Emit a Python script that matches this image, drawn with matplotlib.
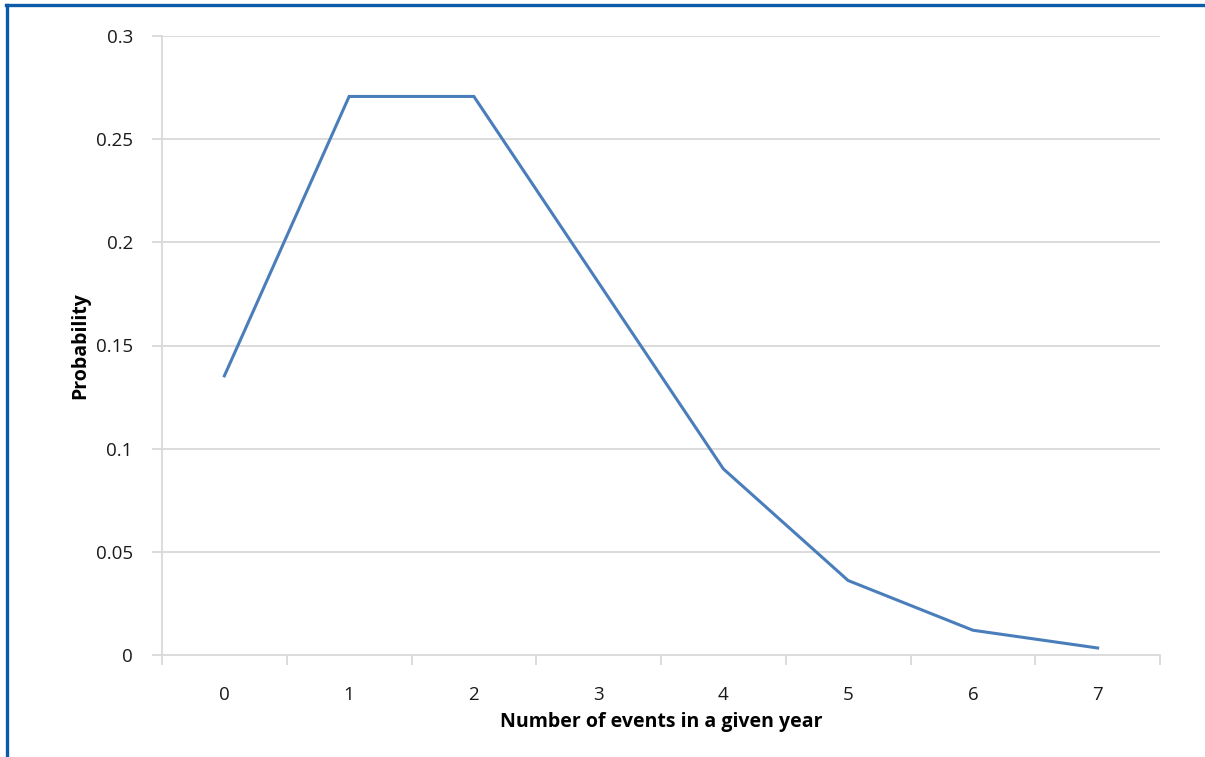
import matplotlib
matplotlib.use("Agg")
import matplotlib.pyplot as plt
from matplotlib.lines import Line2D

categories = ["0", "1", "2", "3", "4", "5", "6", "7"]
probability = [0.1353, 0.2707, 0.2707, 0.1804, 0.0902, 0.0361, 0.0120, 0.0034]
y_ticks = [0, 0.05, 0.1, 0.15, 0.2, 0.25, 0.3]
y_tick_labels = ["0", "0.05", "0.1", "0.15", "0.2", "0.25", "0.3"]

plt.rcParams['font.family'] = ['Open Sans', 'DejaVu Sans']

W, H = 1205, 757
fig = plt.figure(figsize=(W / 100, H / 100), dpi=100)
ax = fig.add_axes([162 / W, 1 - 655 / H, (1160 - 162) / W, (655 - 36) / H])

x = list(range(len(categories)))
ax.plot(x, probability, color='#4A7EBB', lw=2.2, solid_joinstyle='miter')
ax.set_xlim(-0.5, len(categories) - 0.5)
ax.set_ylim(0, 0.3)

grid_c = '#D9D9D9'
ax.set_yticks(y_ticks)
ax.set_yticklabels(y_tick_labels)
for yv in y_ticks[1:]:
    ax.axhline(yv, color=grid_c, lw=1.3, zorder=0)
ax.set_xticks(x)
ax.set_xticklabels(categories)
ax.set_xticks([i - 0.5 for i in range(len(categories) + 1)], minor=True)
ax.tick_params(axis='x', which='major', length=0, pad=22, labelsize=13.5, labelcolor='#1a1a1a')
ax.tick_params(axis='x', which='minor', length=7, width=1.3, color=grid_c, direction='out')
ax.tick_params(axis='y', length=7, width=1.3, color=grid_c, pad=14, labelsize=13.5, labelcolor='#1a1a1a')
for s in ['top', 'right']:
    ax.spines[s].set_visible(False)
for s in ['left', 'bottom']:
    ax.spines[s].set_color(grid_c)
    ax.spines[s].set_linewidth(1.3)

ax.set_xlabel('Number of events in a given year', fontsize=14, fontweight='bold', labelpad=6)
ax.set_ylabel('Probability', fontsize=14, fontweight='bold', labelpad=4)

border_c = '#0A5BAA'
fig.add_artist(Line2D([7.5 / W, 7.5 / W], [0, 1 - 4.5 / H], color=border_c, lw=2.4, transform=fig.transFigure))
fig.add_artist(Line2D([6.3 / W, 1], [1 - 4.5 / H, 1 - 4.5 / H], color=border_c, lw=2.4, transform=fig.transFigure))

fig.savefig('out.png', dpi=100)
